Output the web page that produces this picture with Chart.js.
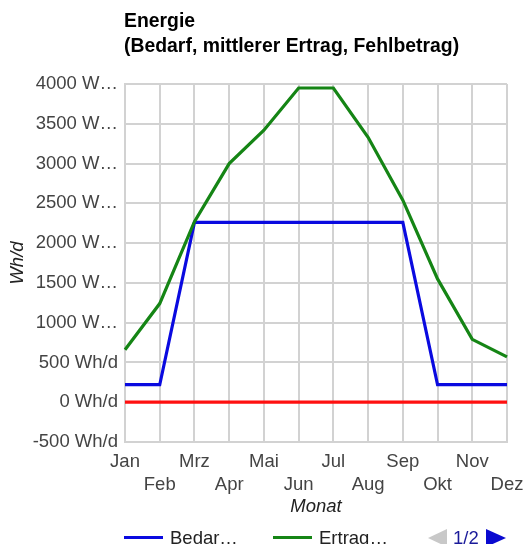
<!DOCTYPE html>
<html>
<head>
<meta charset="utf-8">
<title>Energie</title>
<script src="https://cdn.jsdelivr.net/npm/chart.js@4"></script>
<style>
  body { margin: 0; background: #fff; }
  #wrap { position: relative; width: 526px; height: 544px; overflow: hidden; font-family: "Liberation Sans", Arial, sans-serif; }
  #titel { position: absolute; left: 124px; top: 8px; font-size: 19.4px; line-height: 24.5px; font-weight: bold; color: #000; white-space: nowrap; }
  #legende { position: absolute; left: 0; top: 528px; width: 526px; height: 20px; font-size: 18.5px; line-height: 20px; color: #222; }
  .eintrag { position: absolute; top: 0; white-space: nowrap; }
  .strich { position: absolute; top: 8px; height: 3px; width: 39px; }
  .pfeil { position: absolute; width: 0; height: 0; border-top: 9px solid transparent; border-bottom: 9px solid transparent; }
</style>
</head>
<body>
<div id="wrap">
  <canvas id="myChart" width="526" height="544"></canvas>
  <div id="titel"></div>
  <div id="legende"></div>
</div>
<script>
// Daten
const monate = ["Jan", "Feb", "Mrz", "Apr", "Mai", "Jun", "Jul", "Aug", "Sep", "Okt", "Nov", "Dez"];
const bedarf = [220, 220, 2260, 2260, 2260, 2260, 2260, 2260, 2260, 220, 220, 220];
const ertrag = [660, 1240, 2270, 3000, 3420, 3950, 3950, 3330, 2540, 1550, 790, 570];
const fehlbetrag = [0, 0, 0, 0, 0, 0, 0, 0, 0, 0, 0, 0];
const yTickLabels = ["-500 Wh/d", "0 Wh/d", "500 Wh/d", "1000 W…", "1500 W…", "2000 W…", "2500 W…", "3000 W…", "3500 W…", "4000 W…"];
const legendLabels = ["Bedar…", "Ertrag…"]; // Seite 1/2, Fehlbetrag steht auf Seite 2
const titelZeilen = ["Energie", "(Bedarf, mittlerer Ertrag, Fehlbetrag)"];

const gridColor = "#d2d2d2";
Chart.defaults.font.family = "'Liberation Sans', Arial, sans-serif";

document.getElementById("titel").innerHTML = titelZeilen.join("<br>");

const config = {
  type: "line",
  data: {
    labels: monate,
    datasets: [
      { label: "Bedarf", data: bedarf, borderColor: "#0a0ae0", borderWidth: 3.2, pointRadius: 0, fill: false, order: 3 },
      { label: "mittlerer Ertrag", data: ertrag, borderColor: "#158515", borderWidth: 3.2, pointRadius: 0, fill: false, order: 2 },
      { label: "Fehlbetrag", data: fehlbetrag, borderColor: "#ff1010", borderWidth: 3.2, pointRadius: 0, fill: false, order: 1 },
    ],
  },
  options: {
    responsive: false,
    animation: false,
    layout: { autoPadding: false, padding: { top: 84, right: 19, bottom: 26, left: 0 } },
    plugins: {
      legend: { display: false },
      title: { display: false },
      tooltip: { enabled: false },
    },
    scales: {
      x: {
        offset: false,
        grid: { color: gridColor, lineWidth: 2, drawTicks: false },
        border: { color: gridColor, width: 2 },
        ticks: {
          autoSkip: false,
          maxRotation: 0,
          padding: 8,
          color: "#444",
          font: { size: 18.5, lineHeight: 1.25 },
          // abwechselnd obere und untere Zeile
          callback: (v, i) => (i % 2 === 0 ? [monate[i], ""] : ["", monate[i]]),
        },
        title: { display: true, text: "Monat", color: "#222", font: { size: 18.5, style: "italic" }, padding: 0 },
        afterFit: (s) => {
          s.height = 76;
          s.paddingLeft = 0;
          s.paddingRight = 0;
        },
      },
      y: {
        min: -500,
        max: 4000,
        grid: { color: gridColor, lineWidth: 2, drawTicks: false },
        border: { color: gridColor, width: 2 },
        ticks: {
          stepSize: 500,
          padding: 7,
          color: "#444",
          font: { size: 18.5 },
          callback: (v, i) => yTickLabels[i],
        },
        title: { display: true, text: "Wh/d", color: "#222", font: { size: 18.5, style: "italic" }, padding: { top: 7, bottom: 0 } },
        afterFit: (s) => {
          s.width = 125;
          s.paddingTop = 0;
          s.paddingBottom = 0;
        },
      },
    },
  },
};

const chartInstance = new Chart(document.getElementById("myChart"), config);

// Legende (Seite 1 von 2)
const legende = document.getElementById("legende");
const legendX = [124, 273];
chartInstance.data.datasets.slice(0, 2).forEach((ds, i) => {
  const x = legendX[i];
  legende.innerHTML +=
    `<div class="strich" style="left:${x}px;background:${ds.borderColor}"></div>` +
    `<div class="eintrag" style="left:${x + 46}px">${legendLabels[i]}</div>`;
});
legende.innerHTML +=
  `<div class="pfeil" style="left:428px;top:1px;border-right:19px solid #c8c8c8"></div>` +
  `<div class="eintrag" style="left:453px;color:#1a1a9a">1/2</div>` +
  `<div class="pfeil" style="left:486px;top:1px;border-left:20px solid #0a0ad0"></div>`;
</script>
</body>
</html>
